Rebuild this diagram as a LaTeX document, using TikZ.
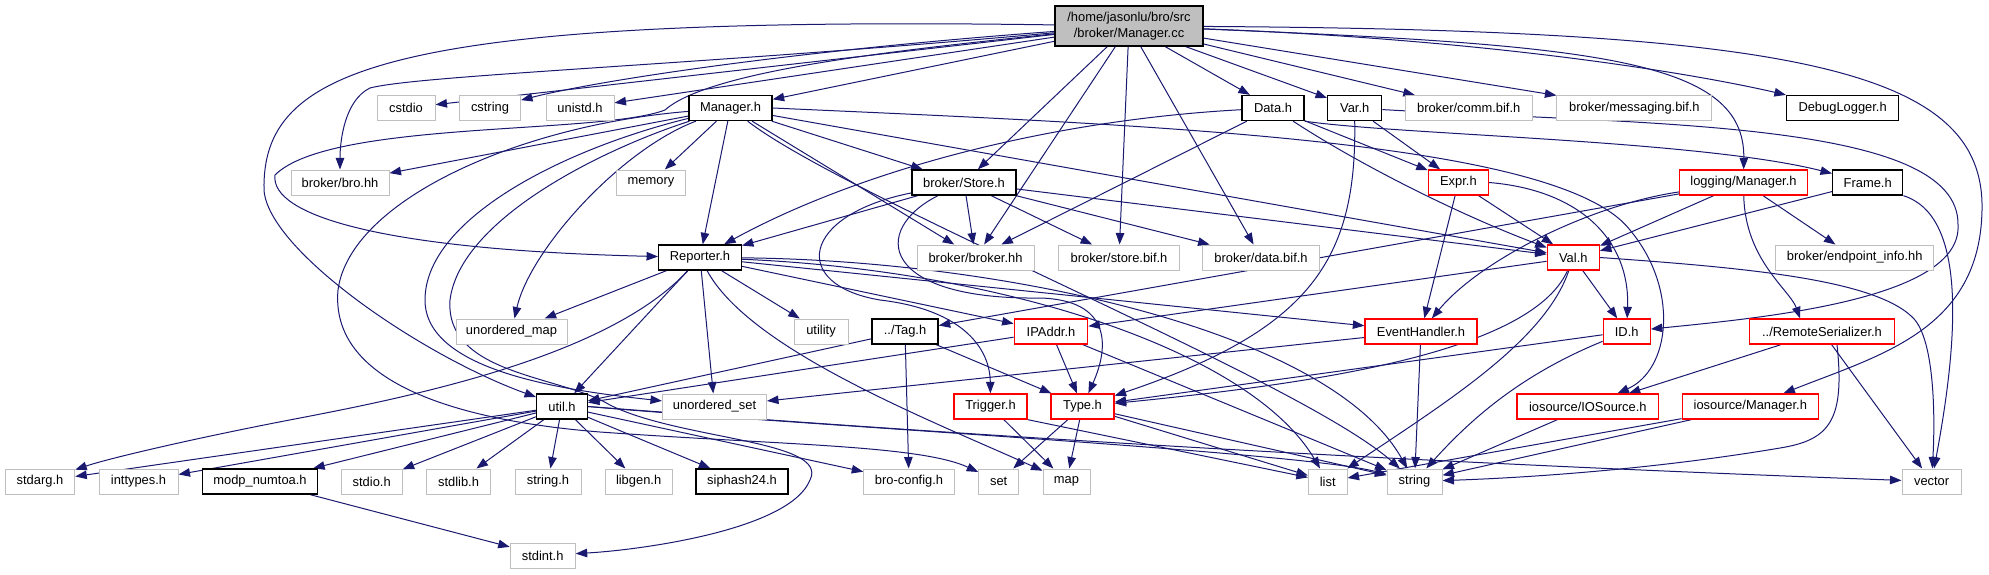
\documentclass[tikz,border=0pt]{standalone}
\usepackage{fontspec}
\setmainfont{Liberation Sans}
\usetikzlibrary{arrows.meta,calc}
\definecolor{edgec}{HTML}{191970}
\definecolor{grayb}{HTML}{BFBFBF}
\definecolor{mcfill}{HTML}{BFBFBF}
\newcommand\dfont{\fontsize{12.9}{15.5}\selectfont}
\pgfdeclarelayer{bg}
\pgfsetlayers{bg,main}
\begin{document}
\begin{tikzpicture}[x=1pt,y=-1pt,
  nb/.style={rectangle, minimum height=25pt, inner sep=0pt, font=\dfont, fill=white},
  gb/.style={nb, draw=grayb, line width=1pt},
  bb/.style={nb, draw=black, line width=1.4pt},
  rb/.style={nb, draw=red, line width=1.3pt},
  e/.style={draw=edgec, line width=1pt, -{Triangle[length=11.5pt,width=8.5pt]}}]
\useasboundingbox (0,0) rectangle (1989,575);
% row 0
\node[bb, fill=mcfill, minimum width=148pt, minimum height=40pt, align=center] (MC) at (1129,26) {/home/jasonlu/bro/src\\/broker/Manager.cc};
% row 1
\node[gb, minimum width=58pt] (cstdio) at (406,108) {cstdio};
\node[gb, minimum width=61pt] (cstring) at (490,108) {cstring};
\node[gb, minimum width=68pt] (unistd) at (580,108) {unistd.h};
\node[bb, minimum width=83pt] (MH) at (730.5,108) {Manager.h};
\node[bb, minimum width=62pt] (DataH) at (1273,108) {Data.h};
\node[bb, minimum width=54pt] (VarH) at (1354.7,108) {Var.h};
\node[gb, minimum width=127pt] (comm) at (1468.7,108) {broker/comm.bif.h};
\node[gb, minimum width=155pt] (msg) at (1634.4,108) {broker/messaging.bif.h};
\node[bb, minimum width=112pt] (dbg) at (1842.6,108) {DebugLogger.h};
% row 2
\node[gb, minimum width=98pt] (brohh) at (340,182.5) {broker/bro.hh};
\node[gb, minimum width=69pt] (memory) at (651,182.5) {memory};
\node[bb, minimum width=104pt] (store) at (964,182.5) {broker/Store.h};
\node[rb, minimum width=60pt] (expr) at (1458.4,182.5) {Expr.h};
\node[rb, minimum width=128pt] (logm) at (1743.5,182.5) {logging/Manager.h};
\node[bb, minimum width=70pt] (frame) at (1867.7,182.5) {Frame.h};
% row 3
\node[bb, minimum width=82.5pt] (rep) at (700,257.5) {Reporter.h};
\node[gb, minimum width=117pt] (brokerhh) at (975.5,257.5) {broker/broker.hh};
\node[gb, minimum width=120.5pt] (storebif) at (1119,257.5) {broker/store.bif.h};
\node[gb, minimum width=117pt] (databif) at (1261,257.5) {broker/data.bif.h};
\node[rb, minimum width=52pt] (val) at (1573.3,257.5) {Val.h};
\node[gb, minimum width=158pt] (endp) at (1854.7,257.5) {broker/endpoint\_info.hh};
% row 4
\node[gb, minimum width=111pt] (umap) at (511.5,331.5) {unordered\_map};
\node[gb, minimum width=54pt] (utility) at (821,331.5) {utility};
\node[bb, minimum width=66pt] (tag) at (905,331.5) {../Tag.h};
\node[rb, minimum width=73.5pt] (ipaddr) at (1051,331.5) {IPAddr.h};
\node[rb, minimum width=112pt] (evh) at (1421,331.5) {EventHandler.h};
\node[rb, minimum width=47pt] (id) at (1626.7,331.5) {ID.h};
\node[rb, minimum width=145.4pt] (rser) at (1822,331.5) {../RemoteSerializer.h};
% row 5
\node[bb, minimum width=50.5pt] (util) at (562,406.5) {util.h};
\node[gb, minimum width=104pt] (uset) at (714.5,406.5) {unordered\_set};
\node[rb, minimum width=73pt] (trig) at (990.5,406.5) {Trigger.h};
\node[rb, minimum width=63pt] (type) at (1082.5,406.5) {Type.h};
\node[rb, minimum width=141.5pt] (ios) at (1587.8,406.5) {iosource/IOSource.h};
\node[rb, minimum width=136.3pt] (iom) at (1750.3,406.5) {iosource/Manager.h};
% row 6
\node[gb, minimum width=69.5pt] (stdarg) at (40,481.5) {stdarg.h};
\node[gb, minimum width=79pt] (inttypes) at (138.5,481.5) {inttypes.h};
\node[bb, minimum width=115pt] (modp) at (260,481.5) {modp\_numtoa.h};
\node[gb, minimum width=61pt] (stdio) at (371.7,481.5) {stdio.h};
\node[gb, minimum width=64.6pt] (stdlib) at (458.5,481.5) {stdlib.h};
\node[gb, minimum width=66pt] (stringh) at (548,481.5) {string.h};
\node[gb, minimum width=67pt] (libgen) at (638.6,481.5) {libgen.h};
\node[bb, minimum width=92pt] (siphash) at (742,481.5) {siphash24.h};
\node[gb, minimum width=90.5pt] (broconf) at (909,481.5) {bro-config.h};
\node[gb, minimum width=40pt] (set) at (998.7,481.5) {set};
\node[gb, minimum width=47pt] (map) at (1066.5,481.5) {map};
\node[gb, minimum width=38.7pt] (list) at (1327.7,481.5) {list};
\node[gb, minimum width=55pt] (string) at (1414.5,481.5) {string};
\node[gb, minimum width=59.2pt] (vector) at (1931.6,481.5) {vector};
% row 7
\node[gb, minimum width=65pt] (stdint) at (542.7,555.5) {stdint.h};

\begin{pgfonlayer}{bg}
% Manager.cc
\draw[e] (MC) -- (cstdio);
\draw[e] (MC) .. controls (800,50) and (600,80) .. (cstring);
\draw[e] (MC) -- (unistd);
\draw[e] (MC) -- (MH);
\draw[e] (MC) .. controls (700,65) and (420,75) .. (370,88) .. controls (345,100) and (340,140) .. (brohh);
\draw[e] (MC) .. controls (900,50) and (710,70) .. (665,110) .. controls (600,135) and (330,120) .. (275,175) .. controls (270,215) and (380,250) .. (rep);
\draw[e] (MC) .. controls (380,15) and (262,70) .. (264,190) .. controls (268,250) and (420,355) .. (util);
\draw[e] (MC) -- (store);
\draw[e] (MC) -- (brokerhh);
\draw[e] (MC) -- (storebif);
\draw[e] (MC) -- (databif);
\draw[e] (MC) -- (DataH);
\draw[e] (MC) -- (VarH);
\draw[e] (MC) -- (comm);
\draw[e] (MC) -- (msg);
\draw[e] (MC) .. controls (1500,40) and (1700,75) .. (dbg);
\draw[e] (MC) .. controls (1600,45) and (1745,60) .. (logm);
\draw[e] (MC) .. controls (1800,30) and (1985,70) .. (1982,210) .. controls (1980,330) and (1880,355) .. (iom);
% Manager.h
\draw[e] (MH) -- (brohh);
\draw[e] (MH) -- (memory);
\draw[e] (MH) -- (rep);
\draw[e] (MH) -- (store);
\draw[e] (MH) -- (brokerhh);
\draw[e] (MH) -- (val);
\draw[e] (MH.east) .. controls (1150,125) and (1560,140) .. (1630,230) .. controls (1680,290) and (1670,370) .. (ios);
\draw[e] (MH) .. controls (620,150) and (530,250) .. (umap);
\draw[e] (MH) .. controls (560,150) and (425,220) .. (425,300) .. controls (425,370) and (560,390) .. (uset);
\draw[e] (MH) .. controls (600,150) and (460,220) .. (450,300) .. controls (445,375) and (560,375) .. (610,405) .. controls (680,440) and (830,440) .. (810,480) .. controls (790,530) and (640,550) .. (stdint);
\draw[e] (MH) .. controls (520,125) and (350,200) .. (338,290) .. controls (330,380) and (450,420) .. (600,432) .. controls (780,445) and (920,445) .. (set);
\draw[e] (MH) .. controls (850,200) and (1300,380) .. (string);
% Reporter.h
\draw[e] (rep) -- (umap);
\draw[e] (rep) -- (utility);
\draw[e] (rep) -- (ipaddr);
\draw[e] (rep) -- (evh);
\draw[e] (rep) -- (util);
\draw[e] (rep) -- (uset);
\draw[e] (rep) .. controls (610,355) and (420,395) .. (300,418) .. controls (200,437) and (110,458) .. (stdarg);
\draw[e] (rep) .. controls (750,350) and (930,420) .. (map);
\draw[e] (rep) .. controls (1000,270) and (1250,350) .. (list);
\draw[e] (rep) .. controls (1000,260) and (1330,330) .. (string);
% Store.h
\draw[e] (store) -- (rep);
\draw[e] (store) -- (brokerhh);
\draw[e] (store) -- (storebif);
\draw[e] (store) -- (databif);
\draw[e] (store) -- (val);
\draw[e] (store) .. controls (800,215) and (790,285) .. (880,300) .. controls (965,310) and (990,350) .. (trig);
\draw[e] (store) .. controls (870,230) and (880,300) .. (1040,298) .. controls (1110,300) and (1110,345) .. (type);
% Data.h
\draw[e] (DataH) .. controls (1050,120) and (860,170) .. (rep);
\draw[e] (DataH) -- (brokerhh);
\draw[e] (DataH) -- (expr);
\draw[e] (DataH) .. controls (1360,165) and (1460,215) .. (val);
\draw[e] (DataH.south east) .. controls (1400,135) and (1700,140) .. (frame);
% Var.h
\draw[e] (VarH) -- (expr);
\draw[e] (VarH.south) .. controls (1357,260) and (1310,330) .. (type);
\draw[e] (VarH) .. controls (1650,125) and (1960,120) .. (1958,225) .. controls (1962,300) and (1760,318) .. (id);
% Expr.h
\draw[e] (expr) -- (val);
\draw[e] (expr) -- (evh);
\draw[e] (expr.east) .. controls (1580,190) and (1630,240) .. (id);
% logging/Manager.h
\draw[e] (logm) -- (val);
\draw[e] (logm) -- (tag);
\draw[e] (logm) .. controls (1590,205) and (1480,260) .. (evh);
\draw[e] (logm) .. controls (1745,260) and (1790,290) .. ($(rser.north)+(-22,0)$);
\draw[e] (logm) -- (endp);
% Frame.h
\draw[e] (frame) -- (val);
\draw[e] (frame.south east) .. controls (1965,215) and (1960,330) .. (vector);
% Val.h
\draw[e] (val) -- (ipaddr);
\draw[e] (val) -- (id);
\draw[e] (val) .. controls (1530,355) and (1300,385) .. (type);
\draw[e] (val) .. controls (1545,340) and (1450,400) .. (list);
\draw[e] (val.east) .. controls (1750,268) and (1880,280) .. (1915,320) .. controls (1935,345) and (1935,420) .. (vector);
% ID.h
\draw[e] (id) -- (type);
\draw[e] (id) .. controls (1520,375) and (1470,420) .. (string);
% EventHandler.h
\draw[e] (evh) -- (uset);
\draw[e] (evh) -- (string);
% IPAddr.h
\draw[e] (ipaddr) -- (util);
\draw[e] (ipaddr) -- (type);
\draw[e] (ipaddr) -- (string);
% Tag.h
\draw[e] (tag) -- (util);
\draw[e] (tag) -- (broconf);
\draw[e] (tag) -- (type);
% Trigger.h
\draw[e] (trig) -- (map);
\draw[e] (trig.south east) -- (list);
% Type.h
\draw[e] (type) -- (set);
\draw[e] (type) -- (map);
\draw[e] (type) -- (list);
\draw[e] (type) -- (string);
% util.h
\draw[e] (util) -- (stdarg);
\draw[e] (util) -- (inttypes);
\draw[e] (util) -- (modp);
\draw[e] (util) -- (stdio);
\draw[e] (util) -- (stdlib);
\draw[e] (util) -- (stringh);
\draw[e] (util) -- (libgen);
\draw[e] (util) -- (siphash);
\draw[e] (util) -- (broconf);
\draw[e] (util.east) .. controls (800,425) and (1300,452) .. (string);
\draw[e] (util.east) .. controls (1000,438) and (1400,462) .. (vector);
\draw[e] (modp) -- (stdint);
% iosource
\draw[e] (iom) -- (list);
\draw[e] (iom) -- (string);
\draw[e] (ios) -- (string);
\draw[e] (rser) -- (ios);
\draw[e] ($(rser.south)+(15,0)$) .. controls (1845,420) and (1830,440) .. (1780,448) .. controls (1650,470) and (1520,478) .. (string);
\draw[e] (rser) -- (vector);
\end{pgfonlayer}
\end{tikzpicture}
\end{document}
